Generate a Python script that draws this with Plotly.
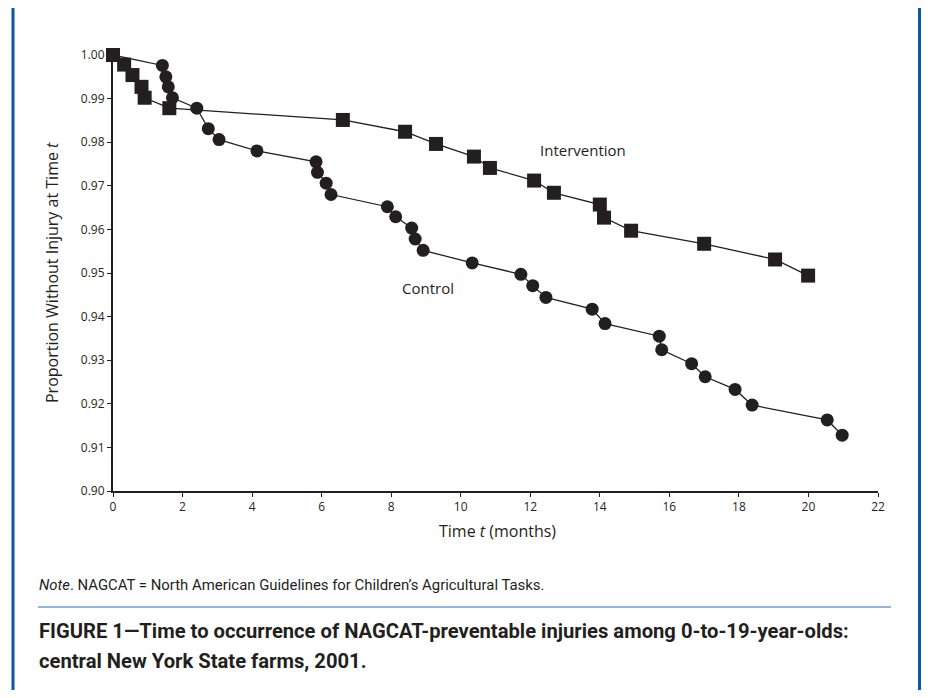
import plotly.graph_objects as go

# ---- data ----
control_months = [0, 1.42, 1.52, 1.59, 1.71, 2.41, 2.74, 3.05, 4.14, 5.84, 5.88, 6.13, 6.27,
                  7.89, 8.13, 8.59, 8.69, 8.92, 10.33, 11.73, 12.07, 12.45, 13.78, 14.15,
                  15.71, 15.78, 16.64, 17.03, 17.89, 18.38, 20.54, 20.97]
control_prop = [1.0, 0.9976, 0.9950, 0.9927, 0.9902, 0.9878, 0.9831, 0.9806, 0.9780, 0.9755,
                0.9731, 0.9706, 0.9680, 0.9652, 0.9629, 0.9603, 0.9578, 0.9552, 0.9523,
                0.9497, 0.9471, 0.9444, 0.9417, 0.9384, 0.9355, 0.9324, 0.9292, 0.9262,
                0.9233, 0.9197, 0.9163, 0.9128]

intervention_months = [0, 0.32, 0.56, 0.82, 0.91, 1.62, 6.61, 8.40, 9.29, 10.38, 10.84,
                       12.11, 12.68, 14.0, 14.12, 14.90, 17.0, 19.04, 19.99]
intervention_prop = [1.0, 0.9978, 0.9954, 0.9927, 0.9902, 0.9878, 0.9851, 0.9824, 0.9796,
                     0.9767, 0.9741, 0.9712, 0.9684, 0.9657, 0.9627, 0.9597, 0.9567,
                     0.9531, 0.9494]

x_ticks = [0, 2, 4, 6, 8, 10, 12, 14, 16, 18, 20, 22]
y_ticks = [0.90, 0.91, 0.92, 0.93, 0.94, 0.95, 0.96, 0.97, 0.98, 0.99, 1.00]

INK = "#231f20"
BLUE = "#0b58a8"
LIGHT_BLUE = "#6a9fd4"
FONT = "Open Sans, Lato, sans-serif"
NARROW = "Roboto, sans-serif"

# page body has an 8px margin; compensate so the figure lines up with the window
OFF = 8
W, H = 930 - OFF, 698 - 2 * OFF
L, T = 113 - OFF, 55 - OFF
PW, PH = 765, 436
R, B = W - L - PW, H - T - PH


def px(xp):
    return (xp - OFF - L) / PW


def py(yp):
    return (T + PH - (yp - OFF)) / PH


fig = go.Figure()
fig.add_trace(go.Scatter(
    x=control_months, y=control_prop, mode="lines+markers", name="Control",
    line=dict(color=INK, width=1.3),
    marker=dict(symbol="circle", size=13, color=INK),
    cliponaxis=False, showlegend=False))
fig.add_trace(go.Scatter(
    x=intervention_months, y=intervention_prop, mode="lines+markers", name="Intervention",
    line=dict(color=INK, width=1.3),
    marker=dict(symbol="square", size=14, color=INK),
    cliponaxis=False, showlegend=False))

axis_common = dict(showline=True, linecolor=INK, linewidth=2, showgrid=False, zeroline=False,
                   ticks="outside", ticklen=4, tickwidth=1.3, tickcolor=INK,
                   tickfont=dict(family=FONT, size=12, color=INK))
fig.update_xaxes(range=[0, 22], tickvals=x_ticks, **axis_common)
fig.update_yaxes(range=[0.90, 1.00], tickvals=y_ticks, tickformat=".2f", **axis_common)

annotations = [
    dict(x=13.52, y=0.9782, xref="x", yref="y", text="Intervention", showarrow=False,
         font=dict(family=FONT, size=15, color=INK)),
    dict(x=9.06, y=0.9466, xref="x", yref="y", text="Control", showarrow=False,
         font=dict(family=FONT, size=15, color=INK)),
    dict(x=px(52), y=0.5, xref="paper", yref="paper", xanchor="center", yanchor="middle",
         text="Proportion Without Injury at Time <i>t</i>",
         textangle=-90, showarrow=False, font=dict(family=FONT, size=16, color=INK)),
    dict(x=px(497), y=py(531), xref="paper", yref="paper", xanchor="center", yanchor="middle",
         text="Time <i>t</i> (months)",
         showarrow=False, font=dict(family=FONT, size=16, color=INK)),
    dict(x=px(37), y=py(585), xref="paper", yref="paper", xanchor="left", yanchor="middle",
         text="<i>Note</i>. NAGCAT = North American Guidelines for Children’s Agricultural Tasks.",
         showarrow=False, font=dict(family=NARROW, size=14.9, color=INK)),
    dict(x=px(37), y=py(631), xref="paper", yref="paper", xanchor="left", yanchor="middle",
         text="<b>FIGURE 1—Time to occurrence of NAGCAT-preventable injuries among 0-to-19-year-olds:</b>",
         showarrow=False, font=dict(family=NARROW, size=20.2, color=INK)),
    dict(x=px(37), y=py(661), xref="paper", yref="paper", xanchor="left", yanchor="middle",
         text="<b>central New York State farms, 2001.</b>",
         showarrow=False, font=dict(family=NARROW, size=20.2, color=INK)),
]

shapes = [
    dict(type="line", xref="paper", yref="paper", x0=px(13), x1=px(13), y0=py(7), y1=py(698),
         line=dict(color=BLUE, width=3)),
    dict(type="line", xref="paper", yref="paper", x0=px(919.5), x1=px(919.5), y0=py(7), y1=py(698),
         line=dict(color=BLUE, width=3)),
    dict(type="line", xref="paper", yref="paper", x0=px(38), x1=px(891), y0=py(607), y1=py(607),
         line=dict(color=LIGHT_BLUE, width=1.5)),
]

fig.update_layout(
    width=W, height=H, margin=dict(l=L, r=R, t=T, b=B),
    paper_bgcolor="white", plot_bgcolor="white",
    annotations=annotations, shapes=shapes, showlegend=False,
)

fig.write_html("out.html")
